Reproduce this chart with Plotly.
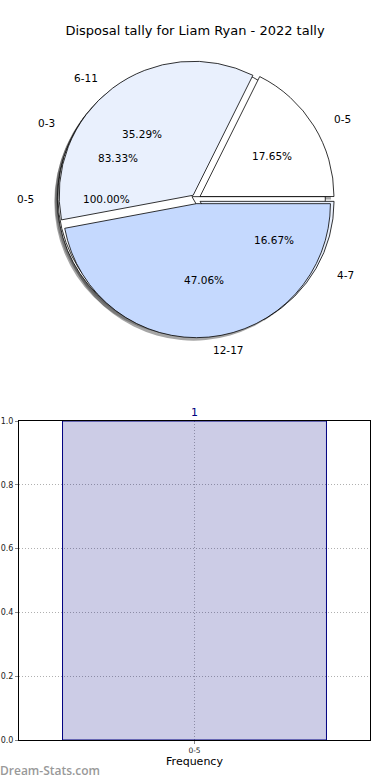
import math
import plotly.graph_objects as go

# ---------------- data ----------------
title_text = "Disposal tally for Liam Ryan - 2022 tally"

pie_a_labels = ["0-5"]
pie_a_values = [1]

pie_b_labels = ["0-3", "4-7"]
pie_b_values = [5, 1]

pie_c_labels = ["0-5", "6-11", "12-17"]
pie_c_values = [3, 6, 8]

bar_categories = ["0-5"]
bar_values = [1]

y_tick_values = [0.0, 0.2, 0.4, 0.6, 0.8, 1.0]

# ---------------- styles / geometry ----------------
W, H = 390, 780
FONT = "DejaVu Sans"
CX, CY = 196, 199          # pie centre (pixels)
R = 134                    # pie radius (pixels)
PULL = 0.035
RX_T, RY_T, RY_L = 141, 128, 134
SHADOW_DX, SHADOW_DY = -3, 3

colors_a = ["#FFFFFF"]
colors_b = ["#FFFFFF", "#E9F0FD"]
colors_c = ["#FFFFFF", "#E9F0FD", "#C5D9FE"]


def px(x):
    return x / W


def py(y):
    return 1 - y / H


def pie_domain(dx=0, dy=0):
    half = R * (1 + PULL)
    return dict(x=[px(CX + dx - half), px(CX + dx + half)],
                y=[py(CY + dy + half), py(CY + dy - half)])


def first_slice_rotation(values):
    # plotly (counterclockwise) ends the first slice at `rotation`;
    # we want the first slice to start at 3 o'clock like matplotlib startangle=0
    return 90 - 360.0 * values[0] / sum(values)


fig = go.Figure()

pies = [
    (pie_a_labels, pie_a_values, colors_a),
    (pie_b_labels, pie_b_values, colors_b),
    (pie_c_labels, pie_c_values, colors_c),
]

# shadows first (under all wedges)
for labels, values, cols in pies:
    fig.add_trace(go.Pie(
        labels=labels, values=values, sort=False, direction="counterclockwise",
        rotation=first_slice_rotation(values), pull=[PULL] * len(values),
        textinfo="none", hoverinfo="skip",
        marker=dict(colors=["rgba(77,77,77,0.5)"] * len(values),
                    line=dict(width=0)),
        domain=pie_domain(SHADOW_DX, SHADOW_DY), showlegend=False,
    ))

for labels, values, cols in pies:
    fig.add_trace(go.Pie(
        labels=labels, values=values, sort=False, direction="counterclockwise",
        rotation=first_slice_rotation(values), pull=[PULL] * len(values),
        textinfo="none", hoverinfo="skip",
        marker=dict(colors=cols, line=dict(color="black", width=0.8)),
        domain=pie_domain(), showlegend=False,
    ))

annotations = []
for labels, values, cols in pies:
    total = sum(values)
    start = 0.0
    for lab, v in zip(labels, values):
        end = start + 360.0 * v / total
        mid = math.radians((start + end) / 2)
        c, s = math.cos(mid), math.sin(mid)
        # percentage text
        annotations.append(dict(
            x=px(CX + (PULL + 0.6) * RX_T * c), y=py(CY - (PULL + 0.6) * RY_T * s),
            xref="paper", yref="paper", text=f"{100.0 * v / total:.2f}%",
            showarrow=False, xanchor="center", yanchor="middle",
            font=dict(family=FONT, size=10.5, color="black")))
        # category label
        annotations.append(dict(
            x=px(CX + (PULL + 1.1) * RX_T * c), y=py(CY - (PULL + 1.1) * RY_L * s),
            xref="paper", yref="paper", text=lab, showarrow=False,
            xanchor="left" if c > 0 else "right", yanchor="middle",
            font=dict(family=FONT, size=10.5, color="black")))
        start = end

# ---------------- bar chart ----------------
fig.add_trace(go.Bar(
    x=bar_categories, y=bar_values, width=0.752,
    marker=dict(color="rgba(0,0,128,0.2)", line=dict(color="#000080", width=1)),
    xaxis="x", yaxis="y", showlegend=False, hoverinfo="skip",
))

for cat, val in zip(bar_categories, bar_values):
    annotations.append(dict(
        x=cat, y=val, xref="x", yref="y", text=str(val), showarrow=False,
        xanchor="center", yanchor="bottom", yshift=0,
        font=dict(family=FONT, size=11, color="#000080")))

annotations.append(dict(
    x=0, y=py(770), xref="paper", yref="paper", text="Dream-Stats.com",
    showarrow=False, xanchor="left", yanchor="middle", xshift=-2,
    font=dict(family="Open Sans", size=12, color="#999999", weight=600)))

grid_style = dict(showgrid=True, gridcolor="#b0b0b0", griddash="1px,2px", gridwidth=1)

fig.update_layout(
    width=W, height=H,
    margin=dict(l=0, r=0, t=0, b=0, autoexpand=False),
    paper_bgcolor="white", plot_bgcolor="white",
    title=dict(text=title_text, x=0.5, xanchor="center", y=py(30), yanchor="middle",
               yref="container", font=dict(family=FONT, size=13, color="black")),
    xaxis=dict(domain=[px(19), px(370)], range=[-0.5, 0.5], type="category",
               automargin=False,
               showline=True, mirror=True, linecolor="black", linewidth=1,
               ticks="outside", ticklen=3, tickcolor="#888",
               tickfont=dict(family=FONT, size=7.5, color="#222"),
               title=dict(text="Frequency", standoff=1,
                          font=dict(family=FONT, size=11, color="black")),
               zeroline=False, **grid_style),
    yaxis=dict(domain=[py(740), py(421)], range=[0, 1], automargin=False,
               tickvals=y_tick_values, ticktext=[f"{t:.1f}" for t in y_tick_values],
               showline=True, mirror=True, linecolor="black", linewidth=1,
               ticks="outside", ticklen=3, tickcolor="#888",
               tickfont=dict(family=FONT, size=8, color="#222"),
               zeroline=False, **grid_style),
    annotations=annotations,
)

fig.write_html("out.html",
               config={"displayModeBar": False, "staticPlot": True},
               post_script="document.body.style.margin='0';document.body.style.overflow='hidden';")
